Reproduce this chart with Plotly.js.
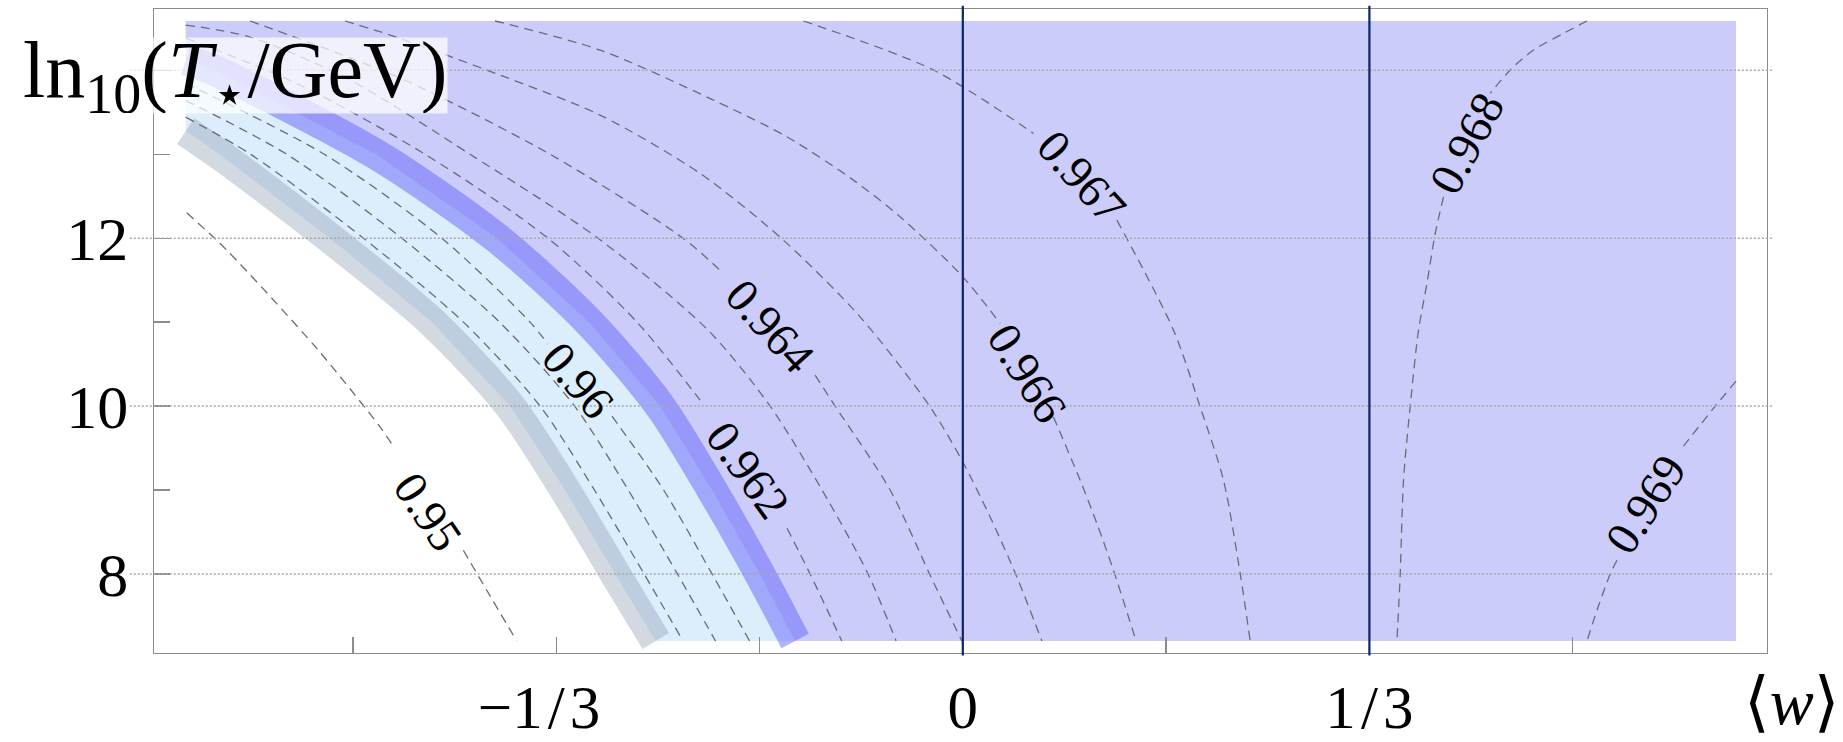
<!DOCTYPE html>
<html>
<head>
<meta charset="utf-8">
<script src="https://cdn.plot.ly/plotly-3.0.1.min.js"></script>
<style>html,body{margin:0;padding:0;background:#fff}#chart{width:1843px;height:742px}</style>
</head>
<body>
<div id="chart"></div>
<script>
// ---- axis ranges and ticks ----
const W_RANGE = [-0.6631, 0.6593];
const Y_RANGE = [7.058, 14.731];
const xTickVals = [-1/3, 0, 1/3];
const xTickText = ['\u22121\u200A/\u200A3<span style="color:white">\u2212</span>', '0', '1\u200A/\u200A3'];
const xMinorVals = [-0.5, -1/6, 1/6, 0.5];
const yTickVals = [8, 10, 12];
const yTickText = ['8', '10', '12'];
const yMinorVals = [9, 11, 13, 14];
const gridY = [8, 10, 12, 14];
const markerW = [0, 1/3];

// ---- data rectangle corners (bottom-right, top-right, top-left) ----
const rectW = [0.6339, 0.6339, -0.6371];
const rectY = [7.201, 14.588, 14.588];

// ---- band centre lines ----
const bandLowW = [-0.6371, -0.6096, -0.5188, -0.4352, -0.3712, -0.3261, -0.2850, -0.2517];
const bandLowY = [13.277, 13.0, 12.0, 11.0, 10.0, 9.0, 8.0, 7.201];
const bandHighW = [-0.6371, -0.6143, -0.4811, -0.3819, -0.3064, -0.2482, -0.2056, -0.1665, -0.1375];
const bandHighY = [14.123, 14.004, 13.0, 12.0, 11.0, 10.0, 9.0, 8.0, 7.201];

// ---- dashed contour lines (null = gap for the label) ----
const c0950W = [-0.6363, -0.6035, -0.5297, -0.4778, -0.4680, null, -0.4095, -0.3903, -0.3657];
const c0950Y = [12.303, 11.858, 10.687, 9.752, 9.546, null, 8.282, 7.806, 7.201];
const c0958W = [-0.6371, -0.5839, -0.4914, -0.4094, -0.3466, -0.3020, -0.2613, -0.2294];
const c0958Y = [13.443, 13, 12, 11, 10, 9, 8, 7.201];
const c0959W = [-0.6371, -0.5543, -0.4599, -0.3798, -0.3183, -0.2743, -0.2340, -0.2027];
const c0959Y = [13.640, 13, 12, 11, 10, 9, 8, 7.201];
const c0960W = [-0.6371, -0.5235, -0.4271, -0.3548, -0.3401, null, -0.2876, -0.2453, -0.2056, -0.1748];
const c0960Y = [13.844, 13, 12, 11, 10.738, null, 9.880, 9, 8, 7.201];
const c0962W = [-0.6371, -0.5434, -0.4409, -0.3401, -0.2671, -0.2154, null, -0.1441, -0.1252, -0.0992];
const c0962Y = [14.385, 13.825, 13, 12, 11, 10.070, null, 8.545, 8, 7.201];
const c0963W = [-0.6371, -0.5844, -0.5024, -0.4040, -0.2991, -0.2089, -0.1580, -0.1154, -0.0777, -0.0547];
const c0963Y = [14.540, 14.397, 13.884, 13, 12, 10.905, 10, 9, 8, 7.201];
const c0964W = [-0.5844, -0.4614, -0.3384, -0.2294, -0.1974, null, -0.1211, -0.1047, -0.0596, -0.0268, -0.0008];
const c0964Y = [14.588, 13.908, 13, 12, 11.596, null, 10.368, 10, 9, 7.985, 7.201];
const c0965W = [-0.5065, -0.4696, -0.3794, -0.2974, -0.2154, -0.1471, -0.0842, -0.0268, -0.0008, 0.0224, 0.0443, 0.0648];
const c0965Y = [14.588, 14.421, 13.944, 13.467, 12.772, 11.977, 11.063, 9.990, 9.355, 8.679, 7.964, 7.201];
const c0966W = [-0.3835, -0.2974, -0.2045, -0.1443, -0.0897, -0.0514, 0, 0.0306, null, 0.0743, 0.0962, 0.1099, 0.1235, 0.1421];
const c0966Y = [14.588, 14.242, 13.646, 13.209, 12.692, 12.255, 11.540, 10.984, null, 9.871, 9.117, 8.601, 8.044, 7.201];
const c0967W = [-0.1307, -0.0241, 0.0579, null, 0.1263, 0.1727, 0.1946, 0.2137, 0.2274, 0.2356];
const c0967Y = [14.588, 14.004, 13.249, null, 12.216, 10.905, 9.990, 9.117, 8.005, 7.201];
const c0968W = [0.5117, 0.4925, 0.4679, 0.4488, 0.4324, null, 0.3941, 0.3873, 0.3805, 0.3736, 0.3668, 0.3613, 0.3586, 0.3559];
const c0968Y = [14.588, 14.441, 14.242, 14.004, 13.726, null, 12.493, 12.057, 11.461, 10.905, 10.0, 9.117, 8.0, 7.201];
const c0969W = [0.6339, 0.6169, 0.5882, null, 0.5363, 0.5308, 0.5199, 0.5117];
const c0969Y = [10.297, 10.0, 9.474, null, 8.163, 8.0, 7.567, 7.201];

// ---- contour labels ----
const labelText = ['0.95', '0.96', '0.962', '0.964', '0.966', '0.967', '0.968', '0.969'];
const labelW = [-0.4382, -0.3155, -0.1761, -0.1580, 0.0525, 0.0976, 0.4133, 0.5595];
const labelY = [8.739, 10.309, 9.236, 10.950, 10.389, 12.732, 13.130, 8.839];
const labelAngle = [56, 50, 54, 48, 58, 48, -62, -57];

const SERIF = 'Liberation Serif, DejaVu Serif, serif';

function dashed(w, y) {
  return {type: 'scatter', mode: 'lines', x: w, y: y, connectgaps: false,
    line: {color: '#6a6a78', width: 1.3, dash: '9px,6px', shape: 'spline', smoothing: 0.8},
    hoverinfo: 'skip', showlegend: false};
}

const traces = [
  {type: 'scatter', mode: 'lines', x: bandLowW.concat(rectW), y: bandLowY.concat(rectY),
   fill: 'toself', fillcolor: '#dcedfc', line: {width: 0, color: 'rgba(0,0,0,0)'}, hoverinfo: 'skip', showlegend: false},
  {type: 'scatter', mode: 'lines', x: bandHighW.concat(rectW), y: bandHighY.concat(rectY),
   fill: 'toself', fillcolor: '#ccccfb', line: {width: 0, color: 'rgba(0,0,0,0)'}, hoverinfo: 'skip', showlegend: false},
  {type: 'scatter', mode: 'lines', x: bandLowW, y: bandLowY,
   line: {color: 'rgba(150,165,180,0.42)', width: 31, shape: 'spline', smoothing: 0.8}, hoverinfo: 'skip', showlegend: false},
  {type: 'scatter', mode: 'lines', x: bandHighW, y: bandHighY,
   line: {color: 'rgba(100,100,250,0.5)', width: 31, shape: 'spline', smoothing: 0.8}, hoverinfo: 'skip', showlegend: false},
  dashed(c0950W, c0950Y), dashed(c0958W, c0958Y), dashed(c0959W, c0959Y), dashed(c0960W, c0960Y),
  dashed(c0962W, c0962Y), dashed(c0963W, c0963Y), dashed(c0964W, c0964Y), dashed(c0965W, c0965Y),
  dashed(c0966W, c0966Y), dashed(c0967W, c0967Y), dashed(c0968W, c0968Y), dashed(c0969W, c0969Y)
];

const shapes = [];
gridY.forEach(v => shapes.push({type: 'line', layer: 'above', xref: 'paper', yref: 'y',
  x0: -0.015, x1: 1.004, y0: v, y1: v, line: {color: '#a8a8a8', width: 1.5, dash: '2px,2px'}}));
markerW.forEach(v => shapes.push({type: 'line', layer: 'above', xref: 'x', yref: 'paper',
  x0: v, x1: v, y0: -0.004, y1: 1.005, line: {color: '#0b2566', width: 2.2}}));

const annotations = labelText.map((t, i) => ({
  x: labelW[i], y: labelY[i], xref: 'x', yref: 'y', text: t, showarrow: false,
  textangle: labelAngle[i], font: {family: SERIF, size: 47, color: '#000'}
}));
annotations.push({
  xref: 'paper', yref: 'paper', x: 0.1822, y: 0.8967, xanchor: 'right', yanchor: 'middle',
  text: 'ln<sub>10</sub>(<i>T</i><sub>\u22C6</sub>/GeV)', showarrow: false,
  bgcolor: 'rgba(255,255,255,0.72)', borderpad: 0, height: 75,
  font: {family: SERIF, size: 80, color: '#000'}
});
annotations.push({
  xref: 'paper', yref: 'paper', x: 1.0155, y: -0.076, xanchor: 'center', yanchor: 'middle',
  text: '\u27E8<i>w</i>\u27E9', showarrow: false,
  font: {family: SERIF, size: 66, color: '#000'}
});

const axisCommon = {
  tickmode: 'array', ticks: 'inside', ticklen: 16, tickwidth: 1.3, tickcolor: '#8c8c8c',
  showline: true, linecolor: '#8c8c8c', linewidth: 1.3, mirror: true,
  showgrid: false, zeroline: false
};
const minorCommon = {tickmode: 'array', ticks: 'inside', ticklen: 16, tickwidth: 1.3,
  tickcolor: '#8c8c8c', showgrid: false};

const layout = {
  width: 1843, height: 742,
  margin: {l: 154, r: 76, t: 9, b: 89},
  paper_bgcolor: '#ffffff', plot_bgcolor: '#ffffff',
  showlegend: false,
  xaxis: Object.assign({}, axisCommon, {range: W_RANGE, tickvals: xTickVals, ticktext: xTickText,
    minor: Object.assign({}, minorCommon, {tickvals: xMinorVals}),
    ticklabelstandoff: 0, tickfont: {family: SERIF, size: 61, color: '#000'}}),
  yaxis: Object.assign({}, axisCommon, {range: Y_RANGE, tickvals: yTickVals, ticktext: yTickText,
    minor: Object.assign({}, minorCommon, {tickvals: yMinorVals}),
    ticklabelstandoff: 12, tickfont: {family: SERIF, size: 62, color: '#000'}}),
  shapes: shapes,
  annotations: annotations
};

Plotly.newPlot('chart', traces, layout, {displayModeBar: false, staticPlot: true});
</script>
</body>
</html>
